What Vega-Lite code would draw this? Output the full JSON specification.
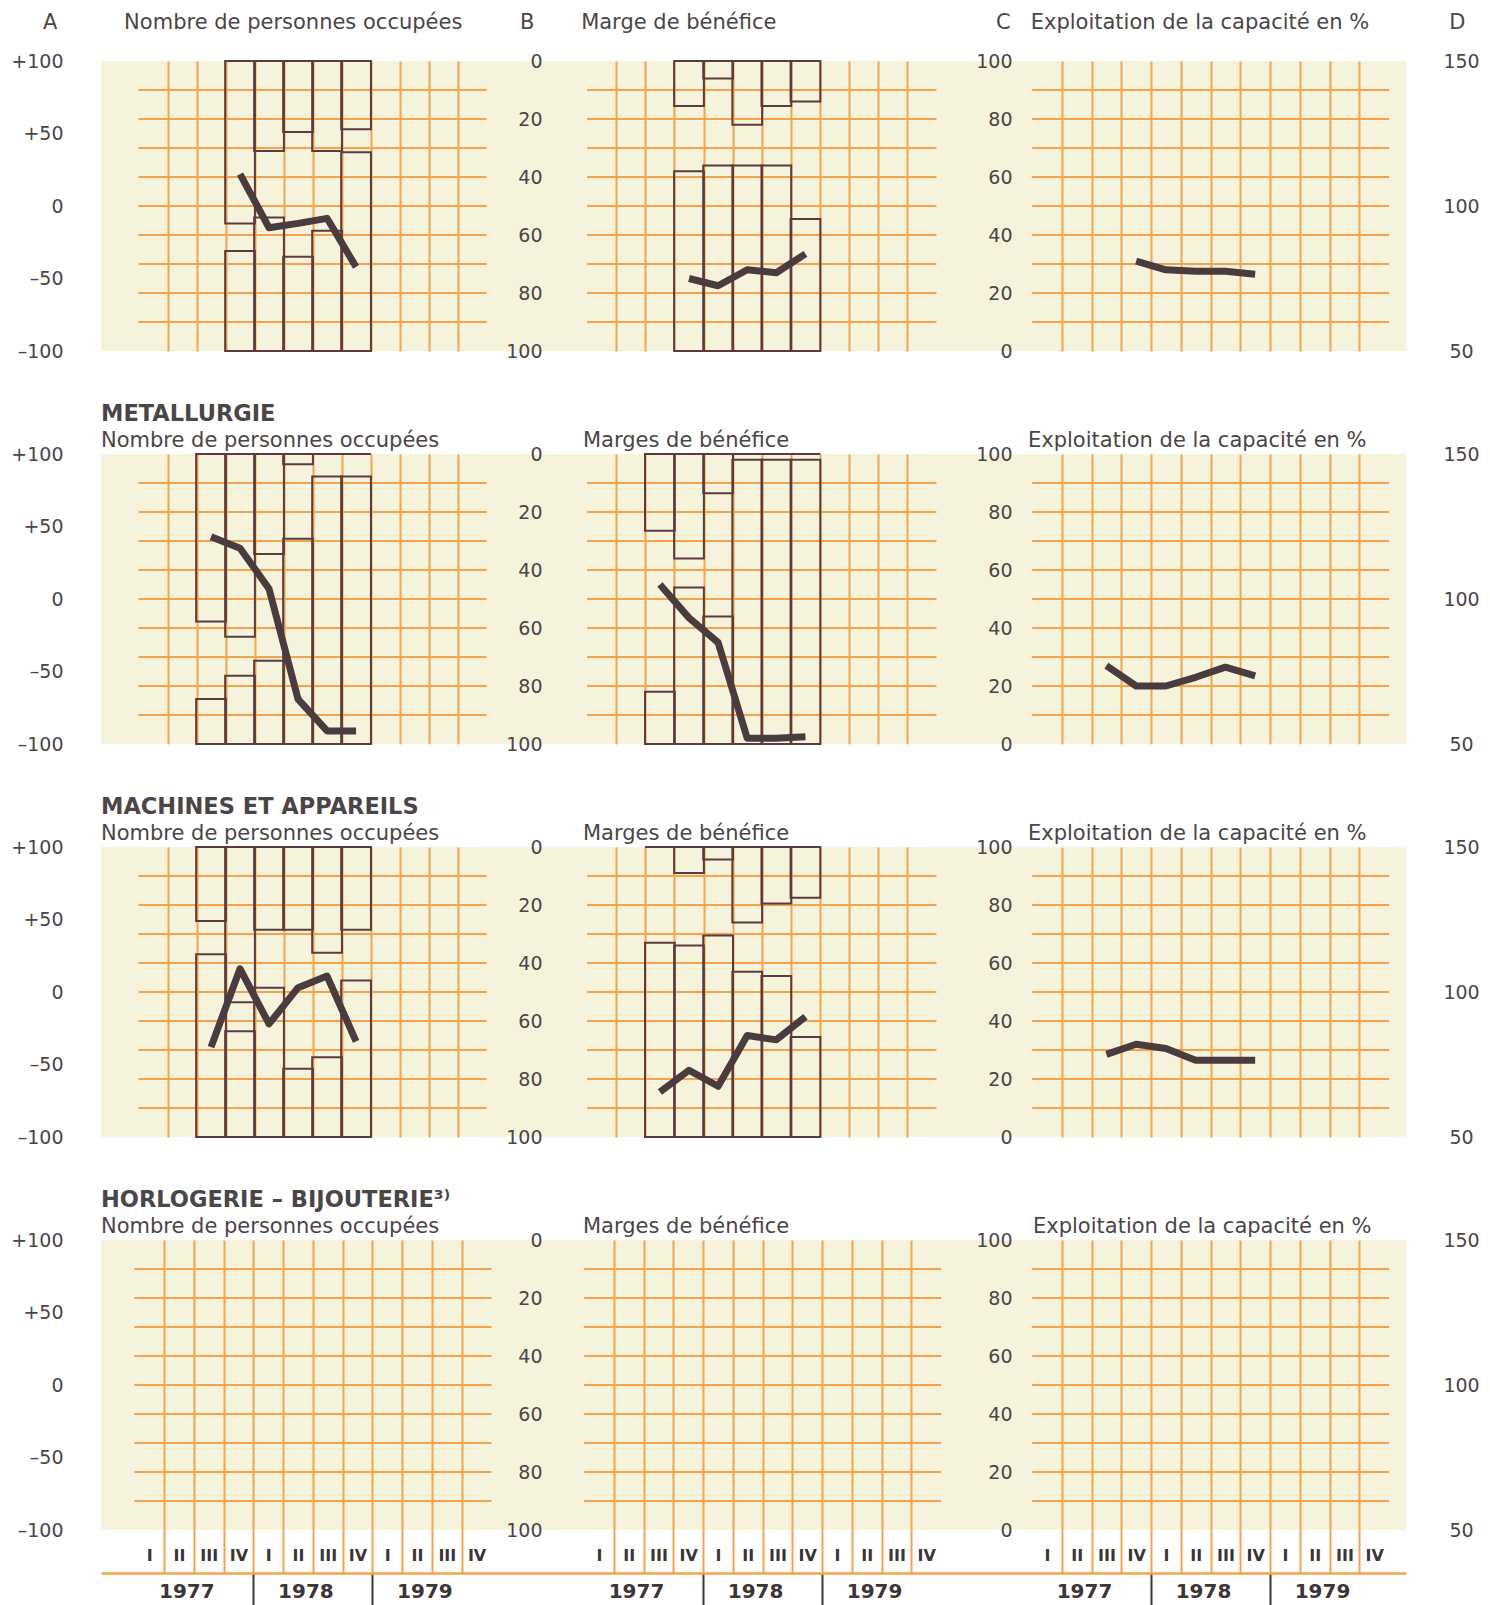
{
 "$schema": "https://vega.github.io/schema/vega-lite/v6.json",
 "background": "white",
 "padding": {"left": 10, "top": 12, "right": 5, "bottom": 0},
 "columns": 3,
 "bounds": "flush",
 "align": "each",
 "spacing": {"row": 103, "column": 0},
 "datasets": {
  "gridA": [{"g": -80}, {"g": -60}, {"g": -40}, {"g": -20}, {"g": 0}, {"g": 20}, {"g": 40}, {"g": 60}, {"g": 80}],
  "gridBC": [{"g": 10}, {"g": 20}, {"g": 30}, {"g": 40}, {"g": 50}, {"g": 60}, {"g": 70}, {"g": 80}, {"g": 90}],
  "r1": [
   {"n": 3, "aTop": -12, "aBot": -31, "aLine": 22, "bTop": 15.5, "bBot": 38, "bLine": 75, "cLine": 31},
   {"n": 4, "aTop": 38, "aBot": -8, "aLine": -15, "bTop": 6, "bBot": 36, "bLine": 77.5, "cLine": 28},
   {"n": 5, "aTop": 51, "aBot": -35, "aLine": -12, "bTop": 22, "bBot": 36, "bLine": 72, "cLine": 27.5},
   {"n": 6, "aTop": 38, "aBot": -17, "aLine": -8.5, "bTop": 15.5, "bBot": 36, "bLine": 73, "cLine": 27.5},
   {"n": 7, "aTop": 53, "aBot": 37, "aLine": -42, "bTop": 14, "bBot": 54.5, "bLine": 66.5, "cLine": 26.5}
  ],
  "r2": [
   {"n": 2, "aTop": -15.5, "aBot": -69, "aLine": 43, "bTop": 26.5, "bBot": 82, "bLine": 45, "cLine": 27},
   {"n": 3, "aTop": -26, "aBot": -53, "aLine": 35, "bTop": 36, "bBot": 46, "bLine": 56.5, "cLine": 20},
   {"n": 4, "aTop": 31, "aBot": -42.5, "aLine": 7, "bTop": 13.5, "bBot": 56, "bLine": 65, "cLine": 20},
   {"n": 5, "aTop": 93, "aBot": 41.5, "aLine": -69, "bTop": 0, "bBot": 2, "bLine": 98, "cLine": 23},
   {"n": 6, "aTop": 100, "aBot": 84.5, "aLine": -91, "bTop": 0, "bBot": 2, "bLine": 98, "cLine": 26.5},
   {"n": 7, "aTop": 100, "aBot": 84.5, "aLine": -91, "bTop": 0, "bBot": 2, "bLine": 97.5, "cLine": 23.5}
  ],
  "r3": [
   {"n": 2, "aTop": 49, "aBot": 26, "aLine": -38, "bTop": 0, "bBot": 33, "bLine": 84.5, "cLine": 28.5},
   {"n": 3, "aTop": -7, "aBot": -27, "aLine": 16, "bTop": 9, "bBot": 34, "bLine": 77, "cLine": 32},
   {"n": 4, "aTop": 43, "aBot": 3, "aLine": -22, "bTop": 4.3, "bBot": 30.5, "bLine": 82.5, "cLine": 30.5},
   {"n": 5, "aTop": 43, "aBot": -53, "aLine": 3, "bTop": 26, "bBot": 43, "bLine": 65, "cLine": 26.5},
   {"n": 6, "aTop": 27, "aBot": -45, "aLine": 11, "bTop": 19.5, "bBot": 44.5, "bLine": 66.5, "cLine": 26.5},
   {"n": 7, "aTop": 43, "aBot": 8, "aLine": -34, "bTop": 17.5, "bBot": 65.5, "bLine": 58.5, "cLine": 26.5}
  ]
 },
 "concat": [
  {
   "width": 397, "height": 290,
   "view": {"fill": "#f6f3dc", "stroke": null},
   "title": {"text": "A\u00a0\u00a0\u00a0\u00a0\u00a0\u00a0\u00a0\u00a0\u00a0\u00a0Nombre de personnes occupées", "dx": -58, "offset": 19},
   "resolve": {"axis": {"x": "independent", "y": "independent"}},
   "layer": [
    {"data": {"name": "gridA"}, "mark": {"type": "rule", "color": "#f5a24b", "strokeWidth": 2},
     "encoding": {
      "x": {"datum": -0.5, "type": "quantitative", "scale": {"domain": [-1.62, 11.72], "nice": false, "zero": false},
       "axis": {"orient": "bottom", "values": [0.5, 1.5, 2.5, 3.5, 4.5, 5.5, 6.5, 7.5, 8.5, 9.5, 10.5], "grid": true, "gridColor": "#f5a24b", "gridWidth": 2, "ticks": false, "labels": false, "domain": false, "title": null}},
      "x2": {"datum": 11.5},
      "y": {"field": "g", "type": "quantitative", "scale": {"domain": [-100, 100], "nice": false, "zero": false},
       "axis": {"orient": "left", "values": [-100, -50, 0, 50, 100], "labelExpr": "datum.value > 0 ? '+' + datum.value : (datum.value < 0 ? '–' + (-datum.value) : '0')", "ticks": false, "domain": false, "grid": false, "labelPadding": 38, "labelBaseline": "middle", "title": null}}}},
    {"data": {"name": "r1"}, "mark": {"type": "bar", "width": 29.75, "fill": "transparent", "stroke": "#5a3c40", "strokeWidth": 2},
     "encoding": {"x": {"field": "n", "type": "quantitative", "axis": null}, "y": {"field": "aTop", "type": "quantitative", "axis": null}, "y2": {"datum": 100}}},
    {"data": {"name": "r1"}, "mark": {"type": "bar", "width": 29.75, "fill": "transparent", "stroke": "#5a3c40", "strokeWidth": 2},
     "encoding": {"x": {"field": "n", "type": "quantitative", "axis": null}, "y": {"field": "aBot", "type": "quantitative", "axis": null}, "y2": {"datum": -100}}},
    {"data": {"name": "r1"}, "mark": {"type": "line", "color": "#4a3b3f", "strokeWidth": 7, "strokeJoin": "round"},
     "encoding": {"x": {"field": "n", "type": "quantitative", "axis": null}, "y": {"field": "aLine", "type": "quantitative", "axis": null}}}
   ]
  },
  {
   "width": 458, "height": 290,
   "view": {"fill": "#f6f3dc", "stroke": null},
   "title": {"text": "B\u00a0\u00a0\u00a0\u00a0\u00a0\u00a0\u00a0Marge de bénéfice", "dx": 22, "offset": 19},
   "resolve": {"axis": {"x": "independent", "y": "independent"}},
   "layer": [
    {"data": {"name": "gridBC"}, "mark": {"type": "rule", "color": "#f5a24b", "strokeWidth": 2},
     "encoding": {
      "x": {"datum": -0.5, "type": "quantitative", "scale": {"domain": [-3.39, 12.0], "nice": false, "zero": false},
       "axis": {"orient": "bottom", "values": [0.5, 1.5, 2.5, 3.5, 4.5, 5.5, 6.5, 7.5, 8.5, 9.5, 10.5], "grid": true, "gridColor": "#f5a24b", "gridWidth": 2, "ticks": false, "labels": false, "domain": false, "title": null}},
      "x2": {"datum": 11.5},
      "y": {"field": "g", "type": "quantitative", "scale": {"domain": [0, 100], "reverse": true, "nice": false, "zero": false},
       "axis": {"orient": "left", "values": [0, 20, 40, 60, 80, 100], "offset": -44, "labelPadding": 0, "ticks": false, "domain": false, "grid": false, "labelBaseline": "middle", "title": null}}}},
    {"data": {"name": "r1"}, "mark": {"type": "bar", "width": 29.75, "fill": "transparent", "stroke": "#5a3c40", "strokeWidth": 2},
     "encoding": {"x": {"field": "n", "type": "quantitative", "axis": null}, "y": {"field": "bTop", "type": "quantitative", "axis": null}, "y2": {"datum": 0}}},
    {"data": {"name": "r1"}, "mark": {"type": "bar", "width": 29.75, "fill": "transparent", "stroke": "#5a3c40", "strokeWidth": 2},
     "encoding": {"x": {"field": "n", "type": "quantitative", "axis": null}, "y": {"field": "bBot", "type": "quantitative", "axis": null}, "y2": {"datum": 100}}},
    {"data": {"name": "r1"}, "mark": {"type": "line", "color": "#4a3b3f", "strokeWidth": 7, "strokeJoin": "round"},
     "encoding": {"x": {"field": "n", "type": "quantitative", "axis": null}, "y": {"field": "bLine", "type": "quantitative", "axis": null}}}
   ]
  },
  {
   "width": 450, "height": 290,
   "view": {"fill": "#f6f3dc", "stroke": null},
   "title": {"text": "C\u00a0\u00a0\u00a0Exploitation de la capacité en %\u00a0\u00a0\u00a0\u00a0\u00a0\u00a0\u00a0\u00a0\u00a0\u00a0\u00a0\u00a0D", "dx": 40, "offset": 19},
   "resolve": {"axis": {"x": "independent", "y": "independent"}},
   "layer": [
    {"data": {"name": "gridBC"}, "mark": {"type": "rule", "color": "#f5a24b", "strokeWidth": 2},
     "encoding": {
      "x": {"datum": -0.5, "type": "quantitative", "scale": {"domain": [-3.055, 12.07], "nice": false, "zero": false},
       "axis": {"orient": "bottom", "values": [0.5, 1.5, 2.5, 3.5, 4.5, 5.5, 6.5, 7.5, 8.5, 9.5, 10.5], "grid": true, "gridColor": "#f5a24b", "gridWidth": 2, "ticks": false, "labels": false, "domain": false, "title": null}},
      "x2": {"datum": 11.5},
      "y": {"field": "g", "type": "quantitative", "scale": {"domain": [0, 100], "nice": false, "zero": false},
       "axis": {"orient": "left", "values": [0, 20, 40, 60, 80, 100], "offset": -56, "labelPadding": 0, "ticks": false, "domain": false, "grid": false, "labelBaseline": "middle", "title": null}}}},
    {"data": {"name": "gridBC"}, "mark": {"type": "rule", "opacity": 0},
     "encoding": {
      "x": {"datum": -0.5, "type": "quantitative", "axis": null},
      "x2": {"datum": 11.5},
      "y": {"field": "g", "type": "quantitative",
       "axis": {"orient": "right", "values": [0, 50, 100], "labelExpr": "datum.value + 50", "labelAlign": "center", "labelPadding": 55, "ticks": false, "domain": false, "grid": false, "labelBaseline": "middle", "title": null}}}},
    {"data": {"name": "r1"}, "mark": {"type": "line", "color": "#4a3b3f", "strokeWidth": 7, "strokeJoin": "round"},
     "encoding": {"x": {"field": "n", "type": "quantitative", "axis": null}, "y": {"field": "cLine", "type": "quantitative", "axis": null}}}
   ]
  },
  {
   "width": 397, "height": 290,
   "view": {"fill": "#f6f3dc", "stroke": null},
   "title": {"text": "METALLURGIE", "fontWeight": "bold", "fontSize": 22.5, "subtitle": "Nombre de personnes occupées", "subtitlePadding": 5, "dx": 0, "offset": -6},
   "resolve": {"axis": {"x": "independent", "y": "independent"}},
   "layer": [
    {"data": {"name": "gridA"}, "mark": {"type": "rule", "color": "#f5a24b", "strokeWidth": 2},
     "encoding": {
      "x": {"datum": -0.5, "type": "quantitative", "scale": {"domain": [-1.62, 11.72], "nice": false, "zero": false},
       "axis": {"orient": "bottom", "values": [0.5, 1.5, 2.5, 3.5, 4.5, 5.5, 6.5, 7.5, 8.5, 9.5, 10.5], "grid": true, "gridColor": "#f5a24b", "gridWidth": 2, "ticks": false, "labels": false, "domain": false, "title": null}},
      "x2": {"datum": 11.5},
      "y": {"field": "g", "type": "quantitative", "scale": {"domain": [-100, 100], "nice": false, "zero": false},
       "axis": {"orient": "left", "values": [-100, -50, 0, 50, 100], "labelExpr": "datum.value > 0 ? '+' + datum.value : (datum.value < 0 ? '–' + (-datum.value) : '0')", "ticks": false, "domain": false, "grid": false, "labelPadding": 38, "labelBaseline": "middle", "title": null}}}},
    {"data": {"name": "r2"}, "mark": {"type": "bar", "width": 29.75, "fill": "transparent", "stroke": "#5a3c40", "strokeWidth": 2},
     "encoding": {"x": {"field": "n", "type": "quantitative", "axis": null}, "y": {"field": "aTop", "type": "quantitative", "axis": null}, "y2": {"datum": 100}}},
    {"data": {"name": "r2"}, "mark": {"type": "bar", "width": 29.75, "fill": "transparent", "stroke": "#5a3c40", "strokeWidth": 2},
     "encoding": {"x": {"field": "n", "type": "quantitative", "axis": null}, "y": {"field": "aBot", "type": "quantitative", "axis": null}, "y2": {"datum": -100}}},
    {"data": {"name": "r2"}, "mark": {"type": "line", "color": "#4a3b3f", "strokeWidth": 7, "strokeJoin": "round"},
     "encoding": {"x": {"field": "n", "type": "quantitative", "axis": null}, "y": {"field": "aLine", "type": "quantitative", "axis": null}}}
   ]
  },
  {
   "width": 458, "height": 290,
   "view": {"fill": "#f6f3dc", "stroke": null},
   "title": {"text": "Marges de bénéfice", "dx": 85, "offset": -6},
   "resolve": {"axis": {"x": "independent", "y": "independent"}},
   "layer": [
    {"data": {"name": "gridBC"}, "mark": {"type": "rule", "color": "#f5a24b", "strokeWidth": 2},
     "encoding": {
      "x": {"datum": -0.5, "type": "quantitative", "scale": {"domain": [-3.39, 12.0], "nice": false, "zero": false},
       "axis": {"orient": "bottom", "values": [0.5, 1.5, 2.5, 3.5, 4.5, 5.5, 6.5, 7.5, 8.5, 9.5, 10.5], "grid": true, "gridColor": "#f5a24b", "gridWidth": 2, "ticks": false, "labels": false, "domain": false, "title": null}},
      "x2": {"datum": 11.5},
      "y": {"field": "g", "type": "quantitative", "scale": {"domain": [0, 100], "reverse": true, "nice": false, "zero": false},
       "axis": {"orient": "left", "values": [0, 20, 40, 60, 80, 100], "offset": -44, "labelPadding": 0, "ticks": false, "domain": false, "grid": false, "labelBaseline": "middle", "title": null}}}},
    {"data": {"name": "r2"}, "mark": {"type": "bar", "width": 29.75, "fill": "transparent", "stroke": "#5a3c40", "strokeWidth": 2},
     "encoding": {"x": {"field": "n", "type": "quantitative", "axis": null}, "y": {"field": "bTop", "type": "quantitative", "axis": null}, "y2": {"datum": 0}}},
    {"data": {"name": "r2"}, "mark": {"type": "bar", "width": 29.75, "fill": "transparent", "stroke": "#5a3c40", "strokeWidth": 2},
     "encoding": {"x": {"field": "n", "type": "quantitative", "axis": null}, "y": {"field": "bBot", "type": "quantitative", "axis": null}, "y2": {"datum": 100}}},
    {"data": {"name": "r2"}, "mark": {"type": "line", "color": "#4a3b3f", "strokeWidth": 7, "strokeJoin": "round"},
     "encoding": {"x": {"field": "n", "type": "quantitative", "axis": null}, "y": {"field": "bLine", "type": "quantitative", "axis": null}}}
   ]
  },
  {
   "width": 450, "height": 290,
   "view": {"fill": "#f6f3dc", "stroke": null},
   "title": {"text": "Exploitation de la capacité en %", "dx": 72, "offset": -6},
   "resolve": {"axis": {"x": "independent", "y": "independent"}},
   "layer": [
    {"data": {"name": "gridBC"}, "mark": {"type": "rule", "color": "#f5a24b", "strokeWidth": 2},
     "encoding": {
      "x": {"datum": -0.5, "type": "quantitative", "scale": {"domain": [-3.055, 12.07], "nice": false, "zero": false},
       "axis": {"orient": "bottom", "values": [0.5, 1.5, 2.5, 3.5, 4.5, 5.5, 6.5, 7.5, 8.5, 9.5, 10.5], "grid": true, "gridColor": "#f5a24b", "gridWidth": 2, "ticks": false, "labels": false, "domain": false, "title": null}},
      "x2": {"datum": 11.5},
      "y": {"field": "g", "type": "quantitative", "scale": {"domain": [0, 100], "nice": false, "zero": false},
       "axis": {"orient": "left", "values": [0, 20, 40, 60, 80, 100], "offset": -56, "labelPadding": 0, "ticks": false, "domain": false, "grid": false, "labelBaseline": "middle", "title": null}}}},
    {"data": {"name": "gridBC"}, "mark": {"type": "rule", "opacity": 0},
     "encoding": {
      "x": {"datum": -0.5, "type": "quantitative", "axis": null},
      "x2": {"datum": 11.5},
      "y": {"field": "g", "type": "quantitative",
       "axis": {"orient": "right", "values": [0, 50, 100], "labelExpr": "datum.value + 50", "labelAlign": "center", "labelPadding": 55, "ticks": false, "domain": false, "grid": false, "labelBaseline": "middle", "title": null}}}},
    {"data": {"name": "r2"}, "mark": {"type": "line", "color": "#4a3b3f", "strokeWidth": 7, "strokeJoin": "round"},
     "encoding": {"x": {"field": "n", "type": "quantitative", "axis": null}, "y": {"field": "cLine", "type": "quantitative", "axis": null}}}
   ]
  },
  {
   "width": 397, "height": 290,
   "view": {"fill": "#f6f3dc", "stroke": null},
   "title": {"text": "MACHINES ET APPAREILS", "fontWeight": "bold", "fontSize": 22.5, "subtitle": "Nombre de personnes occupées", "subtitlePadding": 5, "dx": 0, "offset": -6},
   "resolve": {"axis": {"x": "independent", "y": "independent"}},
   "layer": [
    {"data": {"name": "gridA"}, "mark": {"type": "rule", "color": "#f5a24b", "strokeWidth": 2},
     "encoding": {
      "x": {"datum": -0.5, "type": "quantitative", "scale": {"domain": [-1.62, 11.72], "nice": false, "zero": false},
       "axis": {"orient": "bottom", "values": [0.5, 1.5, 2.5, 3.5, 4.5, 5.5, 6.5, 7.5, 8.5, 9.5, 10.5], "grid": true, "gridColor": "#f5a24b", "gridWidth": 2, "ticks": false, "labels": false, "domain": false, "title": null}},
      "x2": {"datum": 11.5},
      "y": {"field": "g", "type": "quantitative", "scale": {"domain": [-100, 100], "nice": false, "zero": false},
       "axis": {"orient": "left", "values": [-100, -50, 0, 50, 100], "labelExpr": "datum.value > 0 ? '+' + datum.value : (datum.value < 0 ? '–' + (-datum.value) : '0')", "ticks": false, "domain": false, "grid": false, "labelPadding": 38, "labelBaseline": "middle", "title": null}}}},
    {"data": {"name": "r3"}, "mark": {"type": "bar", "width": 29.75, "fill": "transparent", "stroke": "#5a3c40", "strokeWidth": 2},
     "encoding": {"x": {"field": "n", "type": "quantitative", "axis": null}, "y": {"field": "aTop", "type": "quantitative", "axis": null}, "y2": {"datum": 100}}},
    {"data": {"name": "r3"}, "mark": {"type": "bar", "width": 29.75, "fill": "transparent", "stroke": "#5a3c40", "strokeWidth": 2},
     "encoding": {"x": {"field": "n", "type": "quantitative", "axis": null}, "y": {"field": "aBot", "type": "quantitative", "axis": null}, "y2": {"datum": -100}}},
    {"data": {"name": "r3"}, "mark": {"type": "line", "color": "#4a3b3f", "strokeWidth": 7, "strokeJoin": "round"},
     "encoding": {"x": {"field": "n", "type": "quantitative", "axis": null}, "y": {"field": "aLine", "type": "quantitative", "axis": null}}}
   ]
  },
  {
   "width": 458, "height": 290,
   "view": {"fill": "#f6f3dc", "stroke": null},
   "title": {"text": "Marges de bénéfice", "dx": 85, "offset": -6},
   "resolve": {"axis": {"x": "independent", "y": "independent"}},
   "layer": [
    {"data": {"name": "gridBC"}, "mark": {"type": "rule", "color": "#f5a24b", "strokeWidth": 2},
     "encoding": {
      "x": {"datum": -0.5, "type": "quantitative", "scale": {"domain": [-3.39, 12.0], "nice": false, "zero": false},
       "axis": {"orient": "bottom", "values": [0.5, 1.5, 2.5, 3.5, 4.5, 5.5, 6.5, 7.5, 8.5, 9.5, 10.5], "grid": true, "gridColor": "#f5a24b", "gridWidth": 2, "ticks": false, "labels": false, "domain": false, "title": null}},
      "x2": {"datum": 11.5},
      "y": {"field": "g", "type": "quantitative", "scale": {"domain": [0, 100], "reverse": true, "nice": false, "zero": false},
       "axis": {"orient": "left", "values": [0, 20, 40, 60, 80, 100], "offset": -44, "labelPadding": 0, "ticks": false, "domain": false, "grid": false, "labelBaseline": "middle", "title": null}}}},
    {"data": {"name": "r3"}, "mark": {"type": "bar", "width": 29.75, "fill": "transparent", "stroke": "#5a3c40", "strokeWidth": 2},
     "encoding": {"x": {"field": "n", "type": "quantitative", "axis": null}, "y": {"field": "bTop", "type": "quantitative", "axis": null}, "y2": {"datum": 0}}},
    {"data": {"name": "r3"}, "mark": {"type": "bar", "width": 29.75, "fill": "transparent", "stroke": "#5a3c40", "strokeWidth": 2},
     "encoding": {"x": {"field": "n", "type": "quantitative", "axis": null}, "y": {"field": "bBot", "type": "quantitative", "axis": null}, "y2": {"datum": 100}}},
    {"data": {"name": "r3"}, "mark": {"type": "line", "color": "#4a3b3f", "strokeWidth": 7, "strokeJoin": "round"},
     "encoding": {"x": {"field": "n", "type": "quantitative", "axis": null}, "y": {"field": "bLine", "type": "quantitative", "axis": null}}}
   ]
  },
  {
   "width": 450, "height": 290,
   "view": {"fill": "#f6f3dc", "stroke": null},
   "title": {"text": "Exploitation de la capacité en %", "dx": 72, "offset": -6},
   "resolve": {"axis": {"x": "independent", "y": "independent"}},
   "layer": [
    {"data": {"name": "gridBC"}, "mark": {"type": "rule", "color": "#f5a24b", "strokeWidth": 2},
     "encoding": {
      "x": {"datum": -0.5, "type": "quantitative", "scale": {"domain": [-3.055, 12.07], "nice": false, "zero": false},
       "axis": {"orient": "bottom", "values": [0.5, 1.5, 2.5, 3.5, 4.5, 5.5, 6.5, 7.5, 8.5, 9.5, 10.5], "grid": true, "gridColor": "#f5a24b", "gridWidth": 2, "ticks": false, "labels": false, "domain": false, "title": null}},
      "x2": {"datum": 11.5},
      "y": {"field": "g", "type": "quantitative", "scale": {"domain": [0, 100], "nice": false, "zero": false},
       "axis": {"orient": "left", "values": [0, 20, 40, 60, 80, 100], "offset": -56, "labelPadding": 0, "ticks": false, "domain": false, "grid": false, "labelBaseline": "middle", "title": null}}}},
    {"data": {"name": "gridBC"}, "mark": {"type": "rule", "opacity": 0},
     "encoding": {
      "x": {"datum": -0.5, "type": "quantitative", "axis": null},
      "x2": {"datum": 11.5},
      "y": {"field": "g", "type": "quantitative",
       "axis": {"orient": "right", "values": [0, 50, 100], "labelExpr": "datum.value + 50", "labelAlign": "center", "labelPadding": 55, "ticks": false, "domain": false, "grid": false, "labelBaseline": "middle", "title": null}}}},
    {"data": {"name": "r3"}, "mark": {"type": "line", "color": "#4a3b3f", "strokeWidth": 7, "strokeJoin": "round"},
     "encoding": {"x": {"field": "n", "type": "quantitative", "axis": null}, "y": {"field": "cLine", "type": "quantitative", "axis": null}}}
   ]
  },
  {
   "width": 397, "height": 290,
   "view": {"fill": "#f6f3dc", "stroke": null},
   "title": {"text": "HORLOGERIE – BIJOUTERIE\u00b3\u207e", "fontWeight": "bold", "fontSize": 22.5, "subtitle": "Nombre de personnes occupées", "subtitlePadding": 5, "dx": 0, "offset": -6},
   "resolve": {"axis": {"x": "independent", "y": "independent"}},
   "layer": [
    {"data": {"name": "gridA"}, "mark": {"type": "rule", "color": "#f5a24b", "strokeWidth": 2},
     "encoding": {
      "x": {"datum": -0.5, "type": "quantitative", "scale": {"domain": [-1.62, 11.72], "nice": false, "zero": false},
       "axis": {"orient": "bottom", "values": [-0.5, 0.5, 1.5, 2.5, 3.5, 4.5, 5.5, 6.5, 7.5, 8.5, 9.5, 10.5], "grid": true, "gridColor": {"condition": {"test": "datum.value < 0", "value": "transparent"}, "value": "#f5a24b"}, "gridWidth": 2, "ticks": true, "tickSize": 43, "tickWidth": 2, "tickColor": {"condition": {"test": "datum.value < 0", "value": "transparent"}, "value": "#f5a24b"}, "domain": false, "labels": true, "labelExpr": "['I','II','III','IV'][(datum.value + 0.5) % 4]", "labelOffset": 14.875, "labelPadding": -18, "labelBaseline": "middle", "labelAlign": "center", "labelFontSize": 16, "labelFontWeight": "bold", "labelColor": "#3b3536", "title": null}},
      "x2": {"datum": 11.5},
      "y": {"field": "g", "type": "quantitative", "scale": {"domain": [-100, 100], "nice": false, "zero": false},
       "axis": {"orient": "left", "values": [-100, -50, 0, 50, 100], "labelExpr": "datum.value > 0 ? '+' + datum.value : (datum.value < 0 ? '–' + (-datum.value) : '0')", "ticks": false, "domain": false, "grid": false, "labelPadding": 38, "labelBaseline": "middle", "title": null}}}},
    {"data": {"name": "gridA"}, "mark": {"type": "rule", "opacity": 0},
     "encoding": {
      "x": {"datum": -0.5, "type": "quantitative",
       "axis": {"orient": "bottom", "values": [-0.5, 3.5, 7.5], "offset": 43, "grid": false, "domain": true, "domainColor": "#f5a24b", "domainWidth": 2.5, "ticks": true, "tickSize": 32, "tickWidth": 2, "tickColor": {"condition": {"test": "datum.value < 0", "value": "transparent"}, "value": "#3b3536"}, "labels": true, "labelExpr": "1977 + (datum.value + 0.5) / 4", "labelOffset": 52, "labelPadding": -14, "labelBaseline": "middle", "labelAlign": "center", "labelFontSize": 20, "labelFontWeight": "bold", "labelColor": "#3b3536", "title": null}},
      "x2": {"datum": 11.5},
      "y": {"field": "g", "type": "quantitative", "axis": null}}}
   ]
  },
  {
   "width": 458, "height": 290,
   "view": {"fill": "#f6f3dc", "stroke": null},
   "title": {"text": "Marges de bénéfice", "dx": 85, "offset": -6},
   "resolve": {"axis": {"x": "independent", "y": "independent"}},
   "layer": [
    {"data": {"name": "gridBC"}, "mark": {"type": "rule", "color": "#f5a24b", "strokeWidth": 2},
     "encoding": {
      "x": {"datum": -0.5, "type": "quantitative", "scale": {"domain": [-3.39, 12.0], "nice": false, "zero": false},
       "axis": {"orient": "bottom", "values": [-0.5, 0.5, 1.5, 2.5, 3.5, 4.5, 5.5, 6.5, 7.5, 8.5, 9.5, 10.5], "grid": true, "gridColor": {"condition": {"test": "datum.value < 0", "value": "transparent"}, "value": "#f5a24b"}, "gridWidth": 2, "ticks": true, "tickSize": 43, "tickWidth": 2, "tickColor": {"condition": {"test": "datum.value < 0", "value": "transparent"}, "value": "#f5a24b"}, "domain": false, "labels": true, "labelExpr": "['I','II','III','IV'][(datum.value + 0.5) % 4]", "labelOffset": 14.875, "labelPadding": -18, "labelBaseline": "middle", "labelAlign": "center", "labelFontSize": 16, "labelFontWeight": "bold", "labelColor": "#3b3536", "title": null}},
      "x2": {"datum": 11.5},
      "y": {"field": "g", "type": "quantitative", "scale": {"domain": [0, 100], "reverse": true, "nice": false, "zero": false},
       "axis": {"orient": "left", "values": [0, 20, 40, 60, 80, 100], "offset": -44, "labelPadding": 0, "ticks": false, "domain": false, "grid": false, "labelBaseline": "middle", "title": null}}}},
    {"data": {"name": "gridBC"}, "mark": {"type": "rule", "opacity": 0},
     "encoding": {
      "x": {"datum": -0.5, "type": "quantitative",
       "axis": {"orient": "bottom", "values": [-0.5, 3.5, 7.5], "offset": 43, "grid": false, "domain": true, "domainColor": "#f5a24b", "domainWidth": 2.5, "ticks": true, "tickSize": 32, "tickWidth": 2, "tickColor": {"condition": {"test": "datum.value < 0", "value": "transparent"}, "value": "#3b3536"}, "labels": true, "labelExpr": "1977 + (datum.value + 0.5) / 4", "labelOffset": 52, "labelPadding": -14, "labelBaseline": "middle", "labelAlign": "center", "labelFontSize": 20, "labelFontWeight": "bold", "labelColor": "#3b3536", "title": null}},
      "x2": {"datum": 11.5},
      "y": {"field": "g", "type": "quantitative", "axis": null}}}
   ]
  },
  {
   "width": 450, "height": 290,
   "view": {"fill": "#f6f3dc", "stroke": null},
   "title": {"text": "Exploitation de la capacité en %", "dx": 77, "offset": -6},
   "resolve": {"axis": {"x": "independent", "y": "independent"}},
   "layer": [
    {"data": {"name": "gridBC"}, "mark": {"type": "rule", "color": "#f5a24b", "strokeWidth": 2},
     "encoding": {
      "x": {"datum": -0.5, "type": "quantitative", "scale": {"domain": [-3.055, 12.07], "nice": false, "zero": false},
       "axis": {"orient": "bottom", "values": [-0.5, 0.5, 1.5, 2.5, 3.5, 4.5, 5.5, 6.5, 7.5, 8.5, 9.5, 10.5], "grid": true, "gridColor": {"condition": {"test": "datum.value < 0", "value": "transparent"}, "value": "#f5a24b"}, "gridWidth": 2, "ticks": true, "tickSize": 43, "tickWidth": 2, "tickColor": {"condition": {"test": "datum.value < 0", "value": "transparent"}, "value": "#f5a24b"}, "domain": false, "labels": true, "labelExpr": "['I','II','III','IV'][(datum.value + 0.5) % 4]", "labelOffset": 14.875, "labelPadding": -18, "labelBaseline": "middle", "labelAlign": "center", "labelFontSize": 16, "labelFontWeight": "bold", "labelColor": "#3b3536", "title": null}},
      "x2": {"datum": 11.5},
      "y": {"field": "g", "type": "quantitative", "scale": {"domain": [0, 100], "nice": false, "zero": false},
       "axis": {"orient": "left", "values": [0, 20, 40, 60, 80, 100], "offset": -56, "labelPadding": 0, "ticks": false, "domain": false, "grid": false, "labelBaseline": "middle", "title": null}}}},
    {"data": {"name": "gridBC"}, "mark": {"type": "rule", "opacity": 0},
     "encoding": {
      "x": {"datum": -0.5, "type": "quantitative", "axis": null},
      "x2": {"datum": 11.5},
      "y": {"field": "g", "type": "quantitative",
       "axis": {"orient": "right", "values": [0, 50, 100], "labelExpr": "datum.value + 50", "labelAlign": "center", "labelPadding": 55, "ticks": false, "domain": false, "grid": false, "labelBaseline": "middle", "title": null}}}},
    {"data": {"name": "gridBC"}, "mark": {"type": "rule", "opacity": 0},
     "encoding": {
      "x": {"datum": -0.5, "type": "quantitative",
       "axis": {"orient": "bottom", "values": [-0.5, 3.5, 7.5], "offset": 43, "grid": false, "domain": true, "domainColor": "#f5a24b", "domainWidth": 2.5, "ticks": true, "tickSize": 32, "tickWidth": 2, "tickColor": {"condition": {"test": "datum.value < 0", "value": "transparent"}, "value": "#3b3536"}, "labels": true, "labelExpr": "1977 + (datum.value + 0.5) / 4", "labelOffset": 52, "labelPadding": -14, "labelBaseline": "middle", "labelAlign": "center", "labelFontSize": 20, "labelFontWeight": "bold", "labelColor": "#3b3536", "title": null}},
      "x2": {"datum": 11.5},
      "y": {"field": "g", "type": "quantitative", "axis": null}}}
   ]
  }
 ],
 "config": {
  "font": "DejaVu Sans",
  "view": {"stroke": null},
  "title": {"font": "DejaVu Sans", "fontSize": 21, "fontWeight": "normal", "color": "#4a4546", "anchor": "start", "frame": "group", "subtitleFont": "DejaVu Sans", "subtitleFontSize": 21, "subtitleColor": "#4a4546", "subtitleFontWeight": "normal"},
  "axis": {"labelFont": "DejaVu Sans", "labelFontSize": 19, "labelColor": "#4a4546", "labelOverlap": false, "labelFlush": false}
 }
}
